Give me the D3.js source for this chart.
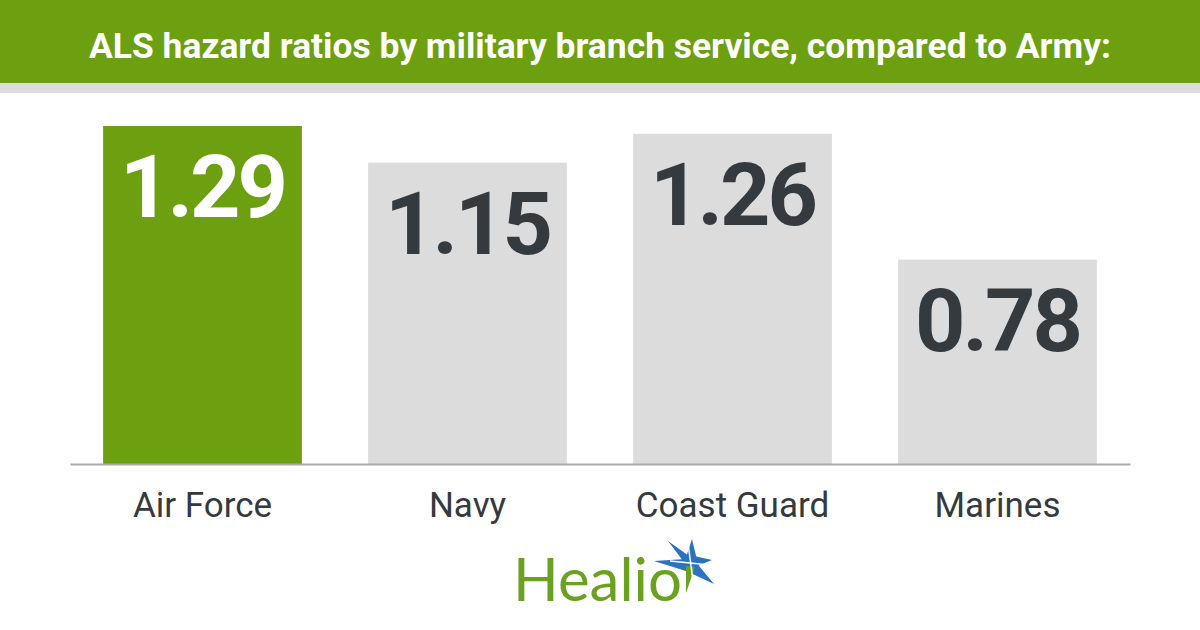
<!DOCTYPE html>
<html>
<head>
<meta charset="utf-8">
<script src="https://cdn.jsdelivr.net/npm/d3@7"></script>
<style>
  html, body { margin: 0; padding: 0; background: #fff; }
  svg { display: block; }
</style>
</head>
<body>
<div id="chart"></div>
<script>
// data
const branches = ["Air Force", "Navy", "Coast Guard", "Marines"];
const ratios = [1.29, 1.15, 1.26, 0.78];
const highlight = ["Air Force"];
const title = "ALS hazard ratios by military branch service, compared to Army:";

const W = 1200, H = 630;
const green = "#6ca010", grey = "#dcdcdc", dark = "#343a3e";

const svg = d3.select("#chart")
  .append("svg")
  .attr("width", W)
  .attr("height", H);

// header band
svg.append("rect").attr("x", 0).attr("y", 0).attr("width", W).attr("height", 83).attr("fill", green);
svg.append("rect").attr("x", 0).attr("y", 83).attr("width", W).attr("height", 10).attr("fill", grey);
svg.append("text")
  .attr("x", 89).attr("y", 58)
  .attr("textLength", 1022)
  .attr("lengthAdjust", "spacingAndGlyphs")
  .style("font-family", "Roboto, 'Liberation Sans', sans-serif")
  .style("font-weight", 700)
  .style("font-size", "35px")
  .attr("fill", "#fff")
  .text(title);

// scales
const x = d3.scaleBand()
  .domain(branches)
  .range([70, 1130])
  .paddingInner(0.25)
  .paddingOuter(0.125);

const y = d3.scaleLinear()
  .domain([0, 1.29])
  .range([464, 126]);

// bars
const g = svg.append("g");
g.selectAll("rect")
  .data(branches)
  .join("rect")
    .attr("x", d => x(d))
    .attr("y", (d, i) => y(ratios[i]))
    .attr("width", x.bandwidth())
    .attr("height", (d, i) => y(0) - y(ratios[i]))
    .attr("fill", d => highlight.includes(d) ? green : grey);

// value labels inside bars
g.selectAll("text.value")
  .data(branches)
  .join("text")
    .attr("class", "value")
    .attr("x", d => x(d) + x.bandwidth() / 2)
    .attr("y", (d, i) => y(ratios[i]) + 91)
    .attr("text-anchor", "middle")
    .style("font-family", "Roboto, sans-serif")
    .style("font-weight", 700)
    .style("font-size", "88px")
    .style("letter-spacing", "-3px")
    .attr("fill", d => highlight.includes(d) ? "#fff" : dark)
    .text((d, i) => ratios[i].toFixed(2));

// baseline + category labels
const axis = svg.append("g")
  .attr("transform", `translate(0, ${y(0)})`)
  .call(d3.axisBottom(x).tickSize(0).tickPadding(28).tickSizeOuter(0));
axis.select(".domain").attr("stroke", "#aaaaaa").attr("stroke-width", 2);
axis.selectAll(".tick text")
  .attr("dy", "0.71em")
  .style("font-family", "Roboto, sans-serif")
  .style("font-size", "35px")
  .attr("fill", dark);

// Healio logo
const logo = svg.append("g");
logo.append("text")
  .attr("x", 513).attr("y", 601)
  .style("font-family", "Lato, 'Open Sans', sans-serif")
  .style("font-weight", 400)
  .style("font-size", "60px")
  .attr("fill", "#6aa121")
  .text("Healio");
const star = d3.path();
const cx = 690, cy = 563;
const tips = [[654, 561], [668, 541], [692, 539], [712, 560], [714, 584]];
tips.forEach((p, i) => {
  const a = Math.atan2(p[1] - cy, p[0] - cx);
  if (i === 0) star.moveTo(p[0], p[1]); else star.lineTo(p[0], p[1]);
  const next = tips[(i + 1) % tips.length];
  const b = Math.atan2(next[1] - cy, next[0] - cx);
  let m = (a + b) / 2;
  if (i === tips.length - 1) m = Math.PI * 0.62;
  star.lineTo(cx + 9 * Math.cos(m), cy + 9 * Math.sin(m));
});
star.closePath();
logo.append("path").attr("d", star.toString()).attr("fill", "#2b72c2");
logo.append("path")
  .attr("d", `M${cx - 4},${cy + 3} L${cx + 5},${cy + 4} L${cx - 4},${cy + 30} Z`)
  .attr("fill", "#6aa121");
logo.append("line").attr("x1", cx - 20).attr("y1", cy - 2).attr("x2", cx + 20).attr("y2", cy + 2)
  .attr("stroke", "#fff").attr("stroke-width", 1.5);
logo.append("line").attr("x1", cx - 2).attr("y1", cy - 20).attr("x2", cx + 3).attr("y2", cy + 18)
  .attr("stroke", "#fff").attr("stroke-width", 1.5);
</script>
</body>
</html>
